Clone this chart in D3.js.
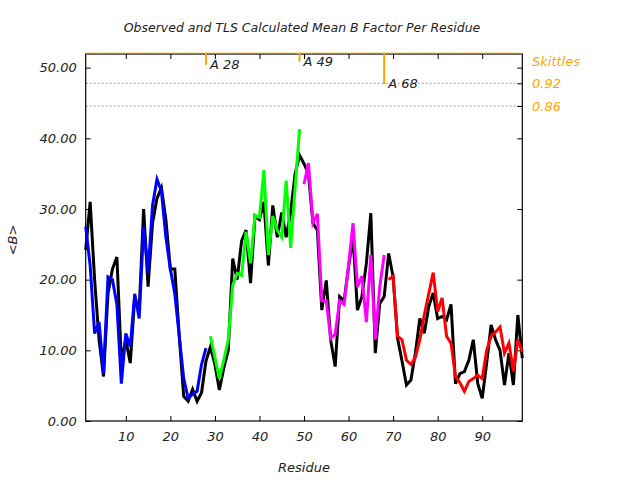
<!DOCTYPE html>
<html>
<head>
<meta charset="utf-8">
<script src="https://cdn.jsdelivr.net/npm/d3@7"></script>
<style>
  html, body { margin: 0; padding: 0; background: #fff; }
  svg { display: block; }
  text { font-family: "DejaVu Sans", sans-serif; font-style: italic; }
</style>
</head>
<body>
<svg id="chart" width="640" height="480"></svg>
<script>
// ---------- data ----------
const residues = d3.range(1, 100);
const observed = [
  24.2, 31, 20, 11.5, 6.3, 18, 21.5, 23.2, 8.5, 11.5,
  8.2, 17.5, 15.5, 30, 19, 28, 31.5, 33, 28.5, 21.5,
  21.5, 12, 3.5, 2.8, 4.5, 2.8, 4, 8.5, 10.5, 8,
  4.4, 7.5, 10, 23, 20, 25.5, 27, 19.5, 29, 28.5,
  31, 22, 30.5, 26, 29.5, 26, 29.5, 35, 37.6, 36.4,
  35, 28, 27, 15.7, 19.9, 11.4, 7.7, 17.6, 17, 21.8,
  26, 15.7, 17.6, 22.3, 29.4, 9.6, 16.6, 17.6, 23.7, 20.4,
  11.7, 8.5, 5.1, 5.8, 9.6, 14.5, 12.4, 16.2, 18.1, 14.5,
  14.8, 14.3, 16.5, 5.3, 6.7, 7, 8.6, 11.5, 5.3, 3.2,
  8.2, 13.6, 11.5, 10, 5.1, 9.6, 5.1, 15, 8.9
];
const tlsA_start = 1;   // blue
const tlsA = [27.5, 22, 12.4, 14, 6.7, 20.4, 20, 16.5, 5.3, 12.4,
  10.5, 18, 14.5, 27.5, 21, 30.5, 34.2, 32.5, 26, 21.5,
  18, 12, 6, 3.2, 3.8, 4.2, 8, 10.3];
const tlsB_start = 29;  // green
const tlsB = [12, 9, 6, 8.6, 11.5, 19.2, 20.9, 20.6, 26.8, 22.3,
  29.1, 28.8, 35.5, 23.5, 29, 27, 26, 34, 24.5, 33, 41.3];
const tlsC_start = 50;  // magenta
const tlsC = [33.5, 36.5, 28, 29.3, 17, 17, 11.7, 12.3, 17, 16.5,
  22, 28, 19, 20.5, 14, 23.5, 11.5, 19, 23.5];
const tlsD_start = 69;  // red
const tlsD = [20, 20.5, 12, 11.5, 8.6, 8, 9, 11.5, 15, 18,
  21, 15.5, 17.4, 12, 11, 6.3, 5.4, 4.2, 5.6, 6,
  6.5, 6, 10, 12, 12.6, 13.3, 9.6, 11, 7, 11.5, 9.8];
const segmentColors = ["#0000ff", "#00ff00", "#ff00ff", "#ff0000"];

const yTicks = [0, 10, 20, 30, 40, 50];
const xTicks = [10, 20, 30, 40, 50, 60, 70, 80, 90];
const skittleTicks = [0.92, 0.86];
const skittleResidues = [28, 49, 68];
const skittleValues = [0.969, 0.977, 0.918];
const skittleLabels = ["A 28", "A 49", "A 68"];

// ---------- layout ----------
const L = 85.7, R = 522.3, T = 54, B = 421;
const svg = d3.select("#chart");
const x = d3.scaleLinear().domain([1, 99]).range([L, R]);
const y = d3.scaleLinear().domain([0, 52]).range([B, T - 0.5]);
const ys = d3.scaleLinear().domain([0.86, 0.92]).range([106, 83.3]);

const orange = "#ffa500";

// gray dotted skittle grid
svg.append("g").selectAll("line").data(skittleTicks).join("line")
  .attr("x1", L).attr("x2", R)
  .attr("y1", d => ys(d)).attr("y2", d => ys(d))
  .attr("stroke", "#999").attr("stroke-width", 1)
  .attr("stroke-dasharray", "2,2");

// axes
const fmt = d3.format(".2f");
const gl = svg.append("g").attr("transform", `translate(${L},0)`)
  .call(d3.axisLeft(y).tickValues(yTicks).tickFormat(fmt).tickSize(-5).tickPadding(9));
const gb = svg.append("g").attr("transform", `translate(0,${B})`)
  .call(d3.axisBottom(x).tickValues(xTicks).tickFormat(d3.format("d")).tickSize(-5).tickPadding(11));
const gt = svg.append("g").attr("transform", `translate(0,${T})`)
  .call(d3.axisTop(x).tickValues(xTicks).tickFormat("").tickSize(-5));
const gr = svg.append("g").attr("transform", `translate(${R},0)`)
  .call(d3.axisRight(y).tickValues(yTicks).tickFormat("").tickSize(-5));
const gr2 = svg.append("g").attr("transform", `translate(${R},0)`)
  .call(d3.axisRight(ys).tickValues(skittleTicks).tickFormat("").tickSize(-5));
[gl, gb, gt, gr, gr2].forEach(g => {
  g.select(".domain").remove();
  g.selectAll(".tick line").attr("stroke", "#000");
  g.selectAll("text").attr("fill", "#222").style("font-size", "13px")
    .style("font-family", "'DejaVu Sans', sans-serif").style("font-style", "italic");
});

// frame
svg.append("rect").attr("x", L).attr("y", T).attr("width", R - L).attr("height", B - T)
  .attr("fill", "none").attr("stroke", "#000").attr("stroke-width", 1.2);

// orange dotted top line (skittle = 1.0)
svg.append("line").attr("x1", L).attr("x2", R)
  .attr("y1", ys(1.0)).attr("y2", ys(1.0))
  .attr("stroke", orange).attr("stroke-width", 1.2).attr("stroke-dasharray", "2,1.5");

// lines
const line = d3.line().x(d => x(d[0])).y(d => y(d[1]));
svg.append("path").datum(residues.map((r, i) => [r, observed[i]]))
  .attr("d", line).attr("fill", "none").attr("stroke", "#000")
  .attr("stroke-width", 3).attr("stroke-linejoin", "miter");

[[tlsA_start, tlsA], [tlsB_start, tlsB], [tlsC_start, tlsC], [tlsD_start, tlsD]].forEach((s, k) => {
  svg.append("path").datum(s[1].map((v, i) => [s[0] + i, v]))
    .attr("d", line).attr("fill", "none").attr("stroke", segmentColors[k])
    .attr("stroke-width", 3).attr("stroke-linejoin", "miter");
});

// skittle markers
const mk = svg.append("g");
skittleResidues.forEach((r, i) => {
  mk.append("line").attr("x1", x(r)).attr("x2", x(r))
    .attr("y1", ys(1.0)).attr("y2", ys(skittleValues[i]))
    .attr("stroke", orange).attr("stroke-width", 2);
  mk.append("text").attr("x", x(r) + 4).attr("y", ys(skittleValues[i]) + 4)
    .attr("fill", "#222").style("font-size", "13px").text(skittleLabels[i]);
});

// right legend labels
svg.append("text").attr("x", 532).attr("y", 66).attr("fill", orange)
  .style("font-size", "13px").text("Skittles");
svg.selectAll(".sk").data(skittleTicks).join("text")
  .attr("x", 532).attr("y", d => ys(d) + 5).attr("fill", orange)
  .style("font-size", "13px").text(d => d.toFixed(2));

// titles
svg.append("text").attr("x", 302).attr("y", 32).attr("text-anchor", "middle")
  .attr("fill", "#222").style("font-size", "12.5px")
  .text("Observed and TLS Calculated Mean B Factor Per Residue");
svg.append("text").attr("x", 304).attr("y", 472).attr("text-anchor", "middle")
  .attr("fill", "#222").style("font-size", "13px").text("Residue");
svg.append("text").attr("transform", "translate(17,240) rotate(-90)")
  .attr("text-anchor", "middle").attr("fill", "#222").style("font-size", "13px").text("<B>");
</script>
</body>
</html>
